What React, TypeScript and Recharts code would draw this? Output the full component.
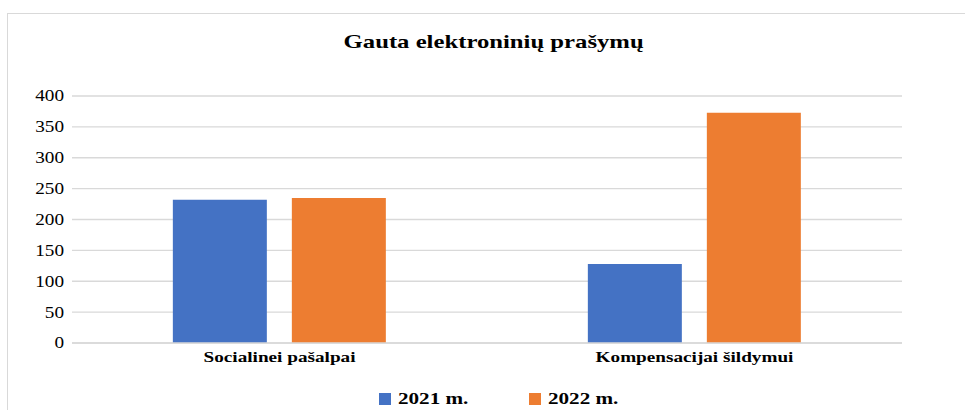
import { BarChart, Bar, XAxis, YAxis, CartesianGrid, Legend } from "recharts";

const categories = ["Socialinei pašalpai", "Kompensacijai šildymui"];
const values2021 = [232, 128];
const values2022 = [235, 373];
const yTicks = [0, 50, 100, 150, 200, 250, 300, 350, 400];
const seriesNames = ["2021 m.", "2022 m."];
const seriesColors = ["#4472C4", "#ED7D31"];

const data = categories.map((name, i) => ({
  name,
  y2021: values2021[i],
  y2022: values2022[i],
}));

const FONT = "Liberation Serif, Tinos, Times New Roman, DejaVu Serif, serif";

// the source picture is stretched sideways, so text gets a horizontal scale
function YTick({ x, y, payload }: any) {
  return (
    <text transform={`translate(${x},${y}) scale(1.2,1)`} textAnchor="end" dominantBaseline="central" fontFamily={FONT} fontSize={16} fill="#000">
      {payload.value}
    </text>
  );
}

function XTick({ x, y, payload }: any) {
  return (
    <text transform={`translate(${x},${y + 6}) scale(1.28,1)`} textAnchor="middle" dominantBaseline="central" fontFamily={FONT} fontWeight={700} fontSize={15} fill="#000">
      {payload.value}
    </text>
  );
}

function LegendContent() {
  return (
    <div style={{ position: "relative", height: 20, fontFamily: FONT, fontWeight: 700, fontSize: 16, color: "#000" }}>
      {seriesNames.map((s, i) => (
        <div key={s} style={{ position: "absolute", top: 3, left: i === 0 ? 379 : 529, display: "flex", alignItems: "center" }}>
          <span style={{ display: "inline-block", width: 12, height: 12, background: seriesColors[i], marginRight: 7 }} />
          <span style={{ display: "inline-block", transform: "scale(1.32,1)", transformOrigin: "left center" }}>{s}</span>
        </div>
      ))}
    </div>
  );
}

export default function App() {
  return (
    <div style={{ position: "absolute", left: 0, top: 0, width: 965, height: 410, background: "#fff", overflow: "hidden" }}>
      {/* light frame, only top and left edges are visible in the source */}
      <div style={{ position: "absolute", left: 7, top: 13, width: 1000, height: 450, borderTop: "1px solid #d9d9d9", borderLeft: "1px solid #d9d9d9" }} />
      <div style={{ position: "absolute", left: 0, top: 31, width: 987, textAlign: "center", fontFamily: FONT, fontWeight: 700, fontSize: 19, color: "#000", transform: "scale(1.3,1)", transformOrigin: "493px 0" }}>
        Gauta elektroninių prašymų
      </div>
      <div style={{ position: "absolute", left: 0, top: 0 }}>
        <BarChart width={965} height={410} data={data} margin={{ top: 96, right: 63, bottom: 3, left: 0 }} barCategoryGap="24.3%" barGap={25}>
          <CartesianGrid vertical={false} stroke="#d9d9d9" strokeWidth={1.3} />
          <XAxis
            dataKey="name"
            axisLine={{ stroke: "#d9d9d9", strokeWidth: 1.3 }}
            tickLine={false}
            height={44}
            tick={<XTick />}
          />
          <YAxis
            width={72}
            domain={[0, 400]}
            ticks={yTicks}
            axisLine={false}
            tickLine={false}
            tick={<YTick />}
          />
          <Legend verticalAlign="bottom" align="left" height={20} content={<LegendContent />} wrapperStyle={{ left: 0, width: 965 }} />
          <Bar dataKey="y2021" name={seriesNames[0]} fill={seriesColors[0]} isAnimationActive={false} />
          <Bar dataKey="y2022" name={seriesNames[1]} fill={seriesColors[1]} isAnimationActive={false} />
        </BarChart>
      </div>
    </div>
  );
}
